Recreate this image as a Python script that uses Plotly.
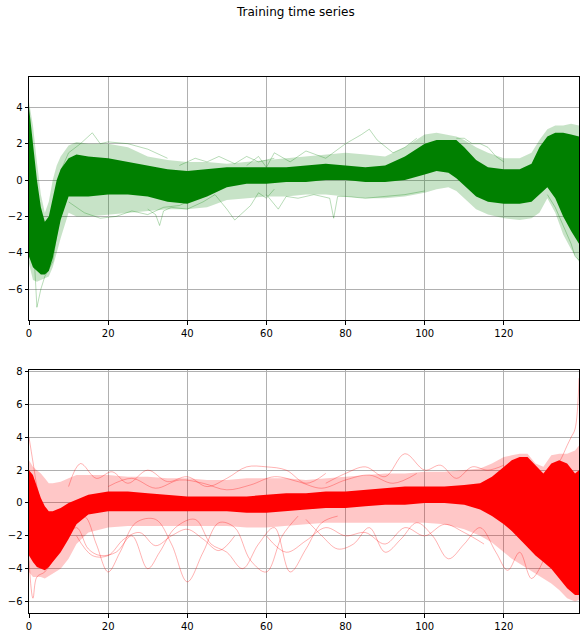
import plotly.graph_objects as go
from plotly.subplots import make_subplots

# ---------------- Top panel (green) ----------------
g_x = [0,1,2,3,4,5,6,7,8,10,12,15,20,25,30,35,40,45,50,55,60,65,70,75,80,85,90,95,100,103,106,108,110,113,116,120,124,127,129,131,133,135,137,139]
g_core_hi = [4.0,2.0,0.0,-1.5,-2.3,-2.0,-1.0,0.0,0.6,1.2,1.4,1.3,1.2,1.0,0.8,0.6,0.5,0.6,0.7,0.7,0.7,0.7,0.8,0.9,0.8,0.7,0.8,1.3,2.0,2.2,2.2,2.2,1.8,1.1,0.7,0.6,0.6,0.9,1.8,2.4,2.6,2.6,2.5,2.4]
g_core_lo = [-4.2,-4.8,-5.0,-5.2,-5.2,-5.0,-4.3,-3.2,-2.2,-0.9,-0.9,-0.9,-0.8,-0.8,-0.9,-1.2,-1.3,-0.9,-0.4,-0.2,-0.2,-0.1,-0.1,0.0,0.0,-0.1,-0.1,0.0,0.3,0.5,0.4,0.1,-0.3,-0.9,-1.2,-1.3,-1.3,-1.2,-0.8,-0.4,-1.0,-2.0,-2.8,-3.5]
g_out_hi = [4.3,3.0,1.0,-0.8,-1.8,-1.2,0.0,0.8,1.3,1.9,2.1,2.0,2.0,1.8,1.3,1.1,1.0,1.0,0.9,1.0,1.1,1.2,1.3,1.4,1.5,1.4,1.3,1.8,2.5,2.6,2.5,2.4,2.2,1.8,1.5,1.2,1.2,1.5,2.2,2.8,3.0,3.0,3.1,3.0]
g_out_lo = [-4.6,-5.5,-5.6,-5.5,-5.4,-5.3,-4.8,-4.0,-3.2,-1.8,-2.0,-2.0,-1.9,-1.8,-1.7,-1.6,-1.6,-1.5,-1.1,-1.0,-0.9,-0.9,-0.8,-0.8,-0.9,-1.0,-1.0,-0.9,-0.7,-0.5,-0.4,-0.6,-1.0,-1.6,-1.9,-2.1,-2.2,-2.1,-1.8,-1.0,-1.8,-3.0,-3.8,-4.5]

g_outliers = [
    ([0,1,2,3,4,6,8,10], [3.5,-3.0,-7.0,-6.0,-5.3,-4.5,-1.5,0.5]),
    ([8,10,13,16,18,20,25,30,35], [0.5,1.5,2.0,2.6,2.0,2.1,2.0,1.7,1.2]),
    ([10,14,18,22,26,30,34,38,42], [-1.2,-1.8,-2.1,-2.0,-1.7,-1.9,-1.5,-1.4,-1.0]),
    ([30,32,33,34,36,40,44,47,50,52,56,58,60,62], [-1.6,-1.9,-2.5,-1.7,-1.5,-1.6,-1.2,-0.8,-1.6,-2.2,-1.4,-0.7,-1.0,-0.5]),
    ([38,42,45,48,52,55,58,62], [0.8,1.2,1.0,1.3,0.9,1.3,1.0,1.2]),
    ([55,58,60,62,66,70,75,80,84,86,88,92,95,98], [0.8,1.3,0.7,1.5,1.0,1.6,1.2,2.0,2.5,2.8,2.2,1.5,1.8,2.3]),
    ([60,63,65,68,72,76,77,78,80,85,90,95,100], [-0.8,-1.6,-0.9,-1.0,-0.8,-1.0,-2.1,-0.9,-0.9,-1.0,-0.9,-0.8,-0.6]),
    ([108,110,112,114,116,118,120], [2.3,2.3,2.0,2.0,1.8,1.3,1.0]),
    ([131,133,135,137,138,139], [-0.8,-1.5,-2.5,-3.5,-4.2,-4.4]),
]

# ---------------- Bottom panel (red) ----------------
r_x = [0,1,2,3,4,5,6,8,10,12,15,20,25,30,35,40,45,50,55,60,65,70,75,80,85,90,95,100,105,110,114,117,120,122,124,126,128,130,132,134,136,138,139]
r_core_hi = [2.0,1.7,1.0,0.3,-0.2,-0.5,-0.5,-0.3,0.0,0.2,0.5,0.7,0.7,0.6,0.5,0.4,0.4,0.4,0.4,0.5,0.6,0.6,0.7,0.7,0.8,0.9,1.0,1.0,1.0,1.1,1.2,1.6,2.2,2.6,2.8,2.8,2.3,1.8,2.4,2.6,2.4,1.8,2.0]
r_core_lo = [-3.2,-3.6,-3.9,-4.0,-4.1,-3.9,-3.6,-3.0,-2.2,-1.3,-0.7,-0.5,-0.5,-0.5,-0.5,-0.5,-0.5,-0.5,-0.6,-0.6,-0.5,-0.4,-0.3,-0.3,-0.2,-0.1,-0.1,0.0,0.0,-0.1,-0.4,-0.8,-1.3,-1.7,-2.2,-2.7,-3.2,-3.6,-4.0,-4.6,-5.2,-5.6,-5.6]
r_out_hi = [2.6,2.2,2.0,1.8,1.5,1.2,1.2,1.3,1.5,1.7,1.7,1.7,1.6,1.6,1.5,1.5,1.4,1.4,1.5,1.5,1.5,1.4,1.5,1.6,1.7,1.8,1.8,1.9,1.9,2.0,2.1,2.4,2.8,2.9,3.0,3.0,2.4,2.2,2.9,3.0,3.0,3.2,3.5]
r_out_lo = [-4.2,-4.5,-4.5,-4.5,-4.6,-4.5,-4.3,-4.0,-3.4,-2.5,-1.8,-1.5,-1.4,-1.4,-1.4,-1.4,-1.4,-1.4,-1.5,-1.5,-1.4,-1.3,-1.2,-1.2,-1.2,-1.2,-1.2,-1.2,-1.3,-1.6,-2.0,-2.4,-3.0,-3.4,-3.7,-4.0,-4.3,-4.6,-4.9,-5.3,-5.8,-6.0,-5.9]

r_outliers = [
    ([0,3,6,10,14,17,20,23,27,32,36,40,44,48,52,56,60,64,68], [0.5,-1.0,-2.0,-1.0,-0.8,-2.5,-4.2,-3.0,-1.2,-1.0,-2.5,-4.8,-3.0,-1.2,-1.5,-3.5,-4.2,-2.0,-0.8]),
    ([8,12,15,18,22,26,30,33,37,42,46,50,54,58,62,66,70,74,78], [-2.5,-1.5,-2.8,-3.2,-3.0,-2.0,-4.0,-3.0,-1.5,-1.0,-2.5,-3.0,-4.0,-2.5,-1.5,-4.2,-2.8,-1.2,-0.8]),
    ([10,13,17,21,25,30,35,40,45,50,55,60,65,70,75], [1.0,2.4,1.5,1.9,1.2,2.0,1.3,1.6,1.0,1.5,2.2,2.2,2.0,1.2,1.8]),
    ([12,16,20,24,28,32,36,40,44,48,52], [-2.0,-3.2,-3.2,-2.2,-1.8,-2.6,-2.0,-1.6,-2.2,-2.9,-2.0]),
    ([70,74,78,82,86,90,94,98,102,106,110,114,118,121,124,127,130], [-1.0,-2.0,-2.8,-2.5,-1.5,-3.0,-2.2,-1.2,-2.0,-3.4,-2.5,-1.5,-3.0,-4.1,-3.0,-4.6,-3.5]),
    ([75,80,85,90,95,100,104,108,112,116,120], [1.2,1.8,2.2,1.6,3.0,2.0,2.3,1.5,2.2,2.0,2.3]),
    ([60,65,70,75,80,85,90,95,100,105,110,115], [-2.0,-3.0,-2.3,-1.5,-2.0,-1.8,-2.5,-1.5,-2.0,-1.3,-1.8,-2.5]),
    ([20,26,32,38,44,50,56,62,68,74,80,86,92,98], [1.0,1.5,0.9,1.4,1.2,0.8,1.1,1.6,1.3,0.9,1.4,1.7,1.2,1.8]),
    ([0,1,2,3], [4.0,2.5,1.0,0.0]),
    ([0,1,2,4,6], [-3.5,-5.8,-4.5,-4.2,-3.5]),
    ([132,134,136,137,138,139], [2.0,2.5,3.5,4.0,4.5,7.6]),
]

x_ticks = [0,20,40,60,80,100,120]
top_y_ticks = [-6,-4,-2,0,2,4]
bot_y_ticks = [-6,-4,-2,0,2,4,6,8]

fig = make_subplots(rows=2, cols=1, vertical_spacing=0.0932)


def add_band(x, hi, lo, color, row):
    fig.add_trace(go.Scatter(x=list(x) + list(x)[::-1], y=list(hi) + list(lo)[::-1],
                             fill="toself", fillcolor=color, mode="lines",
                             line=dict(width=0, color=color), hoverinfo="skip",
                             showlegend=False), row=row, col=1)


add_band(g_x, g_out_hi, g_out_lo, "rgba(0,128,0,0.22)", 1)
for ox, oy in g_outliers:
    fig.add_trace(go.Scatter(x=ox, y=oy, mode="lines", line=dict(color="rgba(0,128,0,0.28)", width=1),
                             showlegend=False, hoverinfo="skip"), row=1, col=1)
add_band(g_x, g_core_hi, g_core_lo, "rgb(0,128,0)", 1)

add_band(r_x, r_out_hi, r_out_lo, "rgba(255,0,0,0.22)", 2)
for ox, oy in r_outliers:
    fig.add_trace(go.Scatter(x=ox, y=oy, mode="lines",
                             line=dict(color="rgba(255,0,0,0.3)", width=1, shape="spline"),
                             showlegend=False, hoverinfo="skip"), row=2, col=1)
add_band(r_x, r_core_hi, r_core_lo, "rgb(255,0,0)", 2)

axis_common = dict(showgrid=True, gridcolor="#b0b0b0", gridwidth=1, showline=True, linecolor="black",
                   linewidth=1, mirror=True, ticks="outside", ticklen=3.5, tickcolor="black",
                   tickfont=dict(family="DejaVu Sans", size=10, color="black"), zeroline=False,
                   automargin=False)

fig.update_xaxes(range=[0, 139], tickvals=x_ticks, **axis_common)
fig.update_yaxes(range=[-7.7, 5.67], tickvals=top_y_ticks, row=1, col=1, **axis_common)
fig.update_yaxes(range=[-6.7, 8.1], tickvals=bot_y_ticks, row=2, col=1, **axis_common)
fig.update_yaxes(domain=[0.5466, 1.0], row=1, col=1)
fig.update_yaxes(domain=[0.0, 0.4534], row=2, col=1)

fig.update_layout(
    width=586, height=636,
    margin=dict(l=29, r=7, t=77, b=23, autoexpand=False),
    plot_bgcolor="white", paper_bgcolor="white",
    showlegend=False,
    annotations=[dict(text="Training time series", x=(295 - 29) / 550, y=1 + (77 - 12) / 536,
                      xref="paper", yref="paper", yanchor="middle", showarrow=False,
                      font=dict(family="DejaVu Sans", size=12, color="black"))],
)

# remove the browser's default 8px body margin so the figure fills the window exactly
fig.write_html("out.html", config={"displayModeBar": False},
               post_script="document.body.style.margin='0px';document.body.style.overflow='hidden';")
